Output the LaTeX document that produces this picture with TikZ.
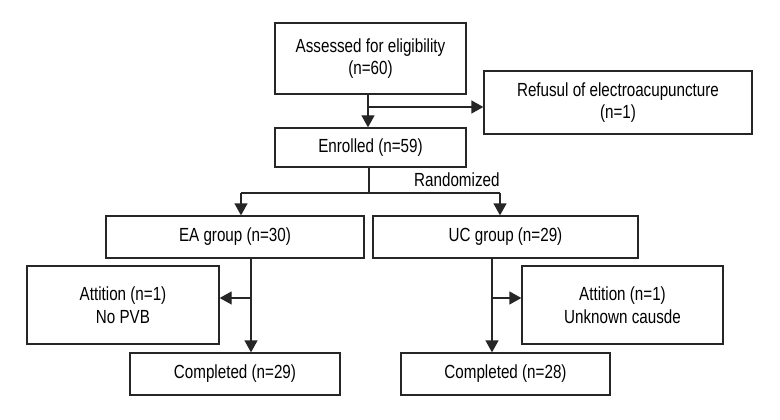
\documentclass[tikz,border=0pt]{standalone}
\usepackage{fontspec}
\setmainfont[FakeStretch=0.8]{Liberation Sans}
\usetikzlibrary{arrows.meta}
\begin{document}
\begin{tikzpicture}[x=1pt,y=-1pt,
  box/.style={draw=black!85, line width=1.3pt, inner sep=0pt, align=center,
              font=\fontsize{19}{22.5}\selectfont, fill=white},
  link/.style={draw=black!85, line width=1.3pt},
  arr/.style={link, -{Triangle[length=12pt,width=13pt]}},
  lbl/.style={font=\fontsize{19}{22}\selectfont, inner sep=0pt}]
\useasboundingbox[fill=white] (0,0) rectangle (780,420);

\node[box, minimum width=191pt, minimum height=71pt] (ass) at (370.5,58.5)
  {Assessed for eligibility\\(n=60)};
\node[box, minimum width=268pt, minimum height=63pt] (ref) at (618,102.5)
  {Refusul of electroacupuncture\\(n=1)};
\node[box, minimum width=191pt, minimum height=39pt] (enr) at (370.5,147.5)
  {Enrolled (n=59)};
\node[box, minimum width=258pt, minimum height=42pt] (ea) at (235,237)
  {EA group (n=30)};
\node[box, minimum width=265pt, minimum height=42pt] (uc) at (505.5,237)
  {UC group (n=29)};
\node[box, minimum width=192pt, minimum height=78pt] (attl) at (123,305)
  {Attition (n=1)\\No PVB};
\node[box, minimum width=201pt, minimum height=78pt] (attr) at (622.5,305)
  {Attition (n=1)\\Unknown causde};
\node[box, minimum width=210pt, minimum height=42pt] (compl) at (235,374)
  {Completed (n=29)};
\node[box, minimum width=209pt, minimum height=42pt] (compr) at (505.5,374)
  {Completed (n=28)};

% Assessed -> Enrolled, branch to refusal
\coordinate (a1) at (368,0);
\draw[arr] (ass.south -| a1) -- (enr.north -| a1);
\coordinate (b1) at (368,107);
\draw[arr] (b1) -- (b1 -| ref.west);

% Randomization split
\coordinate (s1) at (369,193);
\coordinate (tl) at (241,193);
\coordinate (tr) at (500,193);
\draw[link] (enr.south -| s1) -- (s1);
\draw[link] (tl) -- (tr);
\draw[arr] (tl) -- (tl |- ea.north);
\draw[arr] (tr) -- (tr |- uc.north);
\node[lbl, anchor=base west] (rand) at (414,186) {Randomized};

% EA arm
\coordinate (el) at (251,298);
\draw[arr] (ea.south -| el) -- (compl.north -| el);
\draw[arr] (el) -- (el -| attl.east);

% UC arm
\coordinate (ur) at (492,298);
\draw[arr] (uc.south -| ur) -- (compr.north -| ur);
\draw[arr] (ur) -- (ur -| attr.west);
\end{tikzpicture}
\end{document}
